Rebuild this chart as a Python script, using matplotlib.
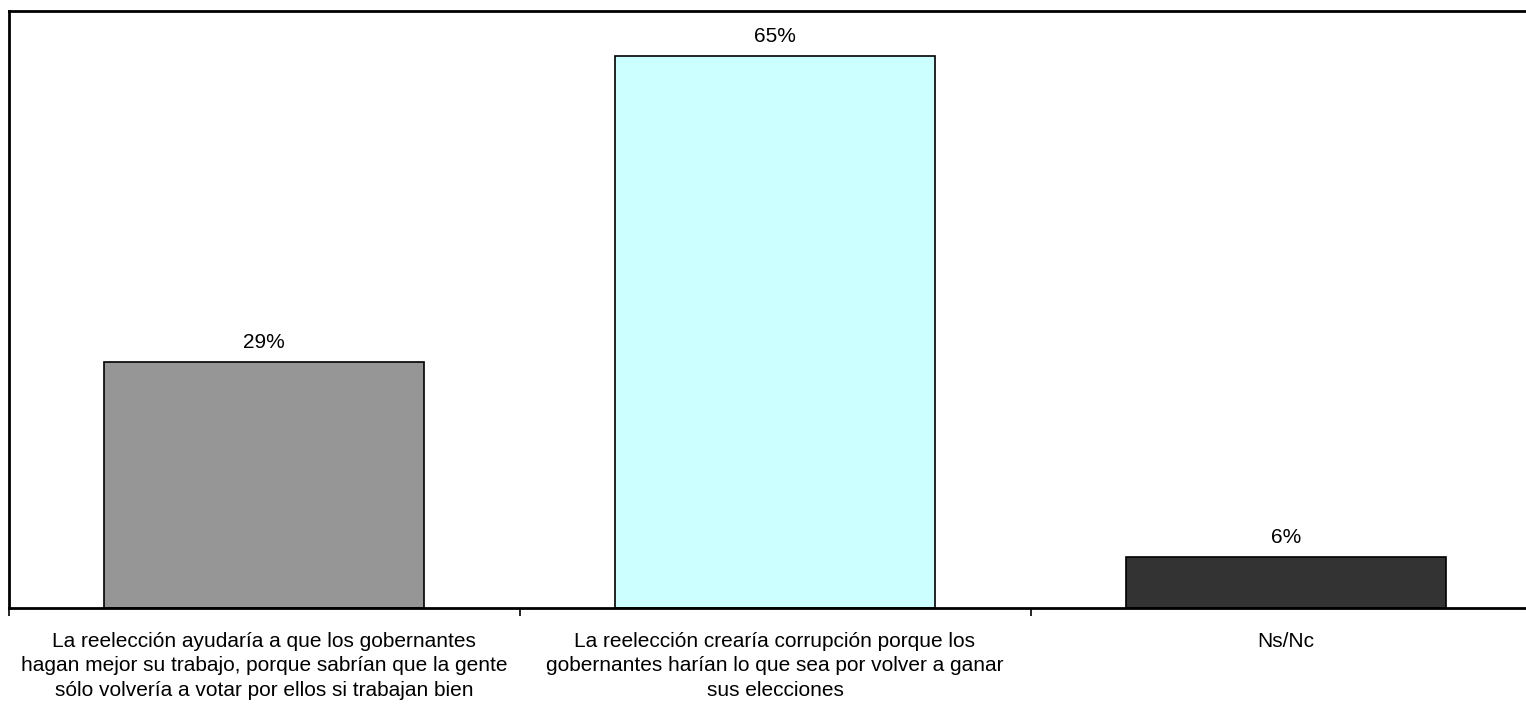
import matplotlib.pyplot as plt

plt.rcParams['font.family'] = ['Liberation Sans', 'DejaVu Sans']

categories = [
    "La reelección ayudaría a que los gobernantes\nhagan mejor su trabajo, porque sabrían que la gente\nsólo volvería a votar por ellos si trabajan bien",
    "La reelección crearía corrupción porque los\ngobernantes harían lo que sea por volver a ganar\nsus elecciones",
    "Ns/Nc",
]
values = [29, 65, 6]
labels = ["29%", "65%", "6%"]
colors = ["#969696", "#CCFFFF", "#333333"]

fig = plt.figure(figsize=(15.26, 7.09), dpi=100)
ax = fig.add_axes([8.5 / 1526, 101 / 709, 1533 / 1526, 597 / 709])

x = range(len(values))
ax.bar(x, values, width=0.625, color=colors, edgecolor="black", linewidth=1.2)
for i, v in enumerate(values):
    ax.text(i, v + 1.2, labels[i], ha="center", va="bottom", fontsize=15)

ax.set_xlim(-0.5, 2.5)
ax.set_ylim(0, 70.3)
ax.set_yticks([])
ax.set_xticks([-0.5, 0.5, 1.5, 2.5])
ax.set_xticklabels([])
ax.set_xticks(list(x), minor=True)
ax.set_xticklabels(categories, minor=True, fontsize=15, linespacing=1.38)
ax.tick_params(axis="x", which="major", length=6, width=1.2, direction="out")
ax.tick_params(axis="x", which="minor", length=0, pad=17)
for s in ax.spines.values():
    s.set_linewidth(2)

plt.savefig("out.png")
